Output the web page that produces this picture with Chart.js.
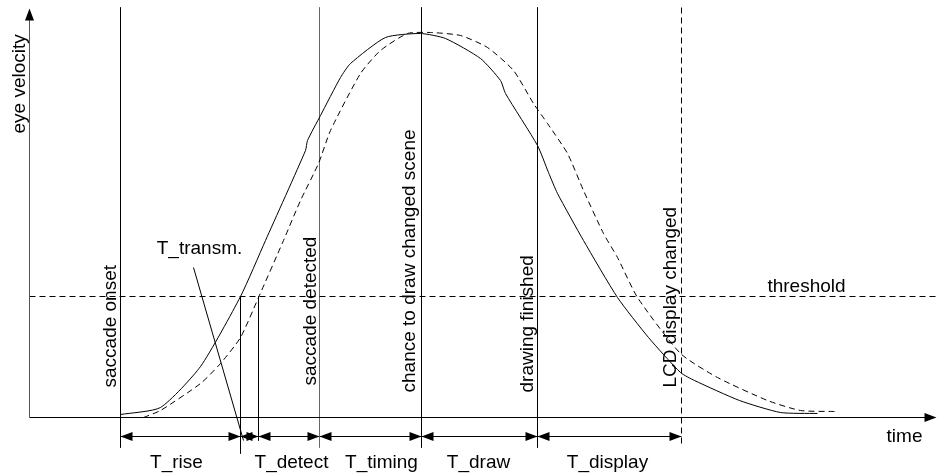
<!DOCTYPE html>
<html>
<head>
<meta charset="utf-8">
<script src="https://cdn.jsdelivr.net/npm/chart.js@4.4.1/dist/chart.umd.min.js"></script>
<style>
  html, body { margin: 0; padding: 0; background: #fff; }
  #wrap { width: 937px; height: 475px; position: relative; }
</style>
</head>
<body>
<div id="wrap"><canvas id="timeline"></canvas></div>
<script>
// eye velocity curve (solid) and delayed copy (dashed)
const solidT = [120, 160, 200, 240, 265, 305, 307, 320, 340, 350, 385, 420, 445, 480, 500, 505, 537, 548, 557, 583, 617, 648, 680, 694, 739, 780, 817];
const solidV = [3, 10, 51, 121, 177, 267, 277, 302, 340, 354, 380, 384, 379, 359, 337, 324, 272, 245, 224, 177, 120, 80, 45, 37, 17, 5, 4];
const dashT = [143, 160, 200, 220, 240, 258, 283, 300, 318, 330, 360, 380, 407, 430, 460, 487, 513, 533, 547, 567, 583, 603, 617, 637, 680, 717, 767, 800, 834];
const dashV = [0, 7, 34, 54, 80, 120, 177, 217, 254, 287, 344, 367, 384, 385, 382, 370, 347, 314, 294, 264, 227, 184, 160, 120, 64, 40, 17, 7, 6];

const threshold = 121;

// events (vertical lines)
const eventT = [120, 319, 421, 537, 681];
const eventLabels = ['saccade onset', 'saccade detected', 'chance to draw changed scene', 'drawing finished', 'LCD display changed'];
const eventLabelT = [115, 315, 414, 532, 675];
const eventLabelV = [30, 32, 25, 25, 30];

// intervals along the time row
const intervalEdges = [120, 240, 258, 319, 421, 537, 681];
const intervalLabels = ['T_rise', 'T_detect', 'T_timing', 'T_draw', 'T_display'];
const intervalLabelT = [176, 291, 381, 478, 607];

const font = '19px "Liberation Sans", Arial, sans-serif';

const plain = { showLine: true, pointRadius: 0, borderColor: '#000', borderWidth: 1, fill: false };
function seg(t1, v1, t2, v2, extra) {
  return Object.assign({}, plain, { data: [{ x: t1, y: v1 }, { x: t2, y: v2 }] }, extra || {});
}

let datasets = [];
datasets.push(Object.assign({}, plain, { data: solidT.map((t, i) => ({ x: t, y: solidV[i] })), tension: 0.2 }));
datasets.push(Object.assign({}, plain, { data: dashT.map((t, i) => ({ x: t, y: dashV[i] })), tension: 0.2, borderDash: [6, 4] }));
// axes
datasets.push(seg(29, 0, 29, 405, { borderColor: '#555' }));
datasets.push(seg(29, 0, 932, 0));
// threshold
datasets.push(seg(29, threshold, 937, threshold, { borderDash: [6, 4] }));
// event lines
eventT.forEach((t, i) => {
  let extra = {};
  if (i == 1) extra.borderColor = '#666';
  if (i == eventT.length - 1) extra.borderDash = [6, 4];
  datasets.push(seg(t, 410, t, -30, extra));
});
// threshold crossings
datasets.push(seg(240, threshold, 240, -36));
datasets.push(seg(258, threshold, 258, -23));
// interval row
for (let i = 0; i < intervalEdges.length - 1; i++) {
  datasets.push(seg(intervalEdges[i], -19, intervalEdges[i + 1], -19));
}
// T_transm. leader
datasets.push(seg(193, 150, 243, -23));

function head(ctx, x, y, dx, dy) {
  const L = 12, W = 4.5;
  ctx.beginPath();
  ctx.moveTo(x, y);
  ctx.lineTo(x - dx * L - dy * W, y - dy * L + dx * W);
  ctx.lineTo(x - dx * L + dy * W, y - dy * L - dx * W);
  ctx.closePath();
  ctx.fill();
}

const annotations = {
  id: 'annotations',
  afterDatasetsDraw(chart) {
    const { ctx, scales: { x, y } } = chart;
    ctx.save();
    ctx.fillStyle = '#000';
    // arrow heads
    head(ctx, x.getPixelForValue(29), y.getPixelForValue(409), 0, -1);
    head(ctx, x.getPixelForValue(936), y.getPixelForValue(0), 1, 0);
    for (let i = 0; i < intervalEdges.length - 1; i++) {
      const py = y.getPixelForValue(-19);
      head(ctx, x.getPixelForValue(intervalEdges[i]), py, -1, 0);
      head(ctx, x.getPixelForValue(intervalEdges[i + 1]), py, 1, 0);
    }
    ctx.font = font;
    ctx.textBaseline = 'alphabetic';
    ctx.textAlign = 'center';
    intervalLabels.forEach((s, i) => {
      ctx.fillText(s, x.getPixelForValue(intervalLabelT[i]), y.getPixelForValue(-50));
    });
    ctx.fillText('T_transm.', x.getPixelForValue(199), y.getPixelForValue(164));
    ctx.fillText('threshold', x.getPixelForValue(806), y.getPixelForValue(126));
    ctx.fillText('time', x.getPixelForValue(904), y.getPixelForValue(-24));
    // rotated labels
    ctx.textAlign = 'left';
    const rot = (s, t, v) => {
      ctx.save();
      ctx.translate(x.getPixelForValue(t), y.getPixelForValue(v));
      ctx.rotate(-Math.PI / 2);
      ctx.fillText(s, 0, 0);
      ctx.restore();
    };
    eventLabels.forEach((s, i) => rot(s, eventLabelT[i], eventLabelV[i]));
    rot('eye velocity', 24, 284);
    ctx.restore();
  }
};

// scale ranges shifted by half a unit so 1px lines land on pixel centres
let chart = new Chart(document.getElementById('timeline'), {
  type: 'scatter',
  data: { datasets: datasets },
  options: {
    responsive: true,
    maintainAspectRatio: false,
    animation: false,
    layout: { padding: 0 },
    scales: {
      x: { type: 'linear', min: -0.5, max: 936.5, display: false },
      y: { type: 'linear', min: -57.5, max: 417.5, display: false }
    },
    plugins: { legend: { display: false }, tooltip: { enabled: false } }
  },
  plugins: [annotations]
});
</script>
</body>
</html>
